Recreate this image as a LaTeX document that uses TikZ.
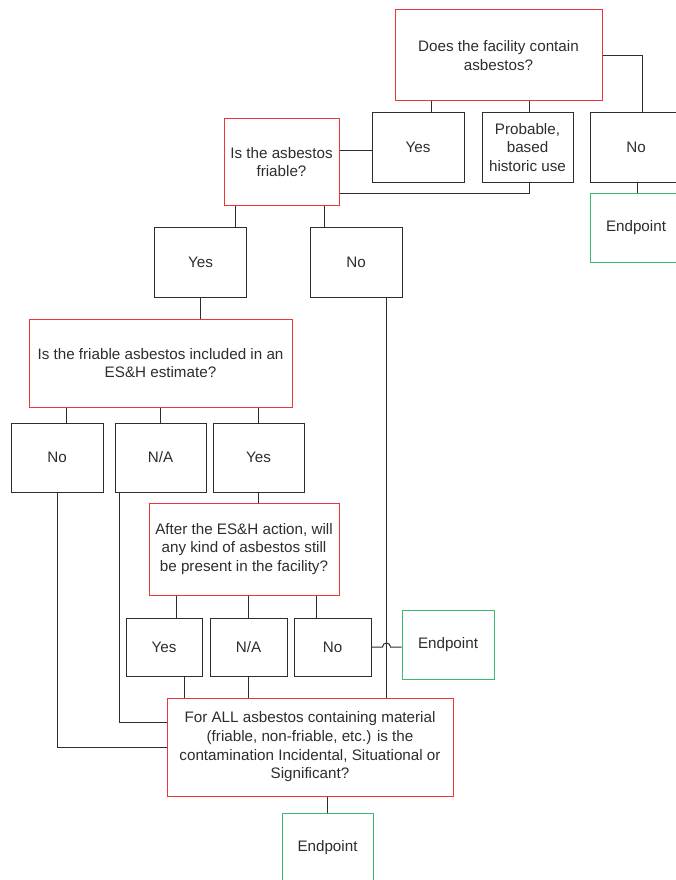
\documentclass[tikz,border=0pt]{standalone}
\usepackage{fontspec}
\setmainfont{Liberation Sans}
\definecolor{qred}{RGB}{238,52,52}
\definecolor{endgreen}{RGB}{60,185,110}
\definecolor{boxgray}{RGB}{45,45,45}

\begin{document}
\begin{tikzpicture}[x = 1pt, y = -1pt, line width = 1pt,
    every node/.style = {shape = rectangle, draw = boxgray, inner sep = 2pt, align = center,
        text = boxgray, font = \fontsize{15.2}{18.7}\selectfont},
    question/.style = {draw = qred},
    answer/.style = {minimum width = 92pt, minimum height = 69pt},
    endpoint/.style = {draw = endgreen, minimum width = 92pt, minimum height = 69pt},
    link/.style = {draw = boxgray}]
        \useasboundingbox (0, 0) rectangle (676, 880);
        \clip (0, 0) rectangle (676, 880);
        % first question
        \node[question, minimum width = 207pt, minimum height = 91pt] (facility) at (498.5, 55.5)
            {Does the facility contain\\asbestos?};
        \node[answer] (yesfac) at (418, 147.5) {Yes};
        \node[answer, minimum width = 91pt] (probable) at (527.5, 147.5) {Probable,\\based\\historic use};
        \node[answer] (nofac) at (636, 147.5) {No};
        \node[endpoint] (endfac) at (636, 227.5) {Endpoint};
        % friable
        \node[question, minimum width = 115pt, minimum height = 86pt] (friable) at (281.5, 162)
            {Is the asbestos\\friable?};
        \node[answer, minimum height = 70pt] (yesfri) at (200.5, 262) {Yes};
        \node[answer, minimum height = 70pt] (nofri) at (356, 262) {No};
        % estimate
        \node[question, minimum width = 263pt, minimum height = 88pt] (estimate) at (160.5, 363)
            {Is the friable asbestos included in an\\ES\&H estimate?};
        \node[answer] (noest) at (57, 457.5) {No};
        \node[answer, minimum width = 91pt] (naest) at (160.5, 457.5) {N/A};
        \node[answer, minimum width = 91pt] (yesest) at (258.5, 457.5) {Yes};
        % still present
        \node[question, minimum width = 190pt, minimum height = 92pt] (present) at (244, 549)
            {After the ES\&H action, will\\any kind of asbestos still\\be present in the facility?};
        \node[answer, minimum width = 76pt, minimum height = 58pt] (yespre) at (164, 647) {Yes};
        \node[answer, minimum width = 77pt, minimum height = 58pt] (napre) at (248.5, 647) {N/A};
        \node[answer, minimum width = 77pt, minimum height = 58pt] (nopre) at (332.5, 647) {No};
        \node[endpoint] (endpre) at (448, 644.5) {Endpoint};
        % contamination
        \node[question, minimum width = 286pt, minimum height = 98pt] (contam) at (310, 747)
            {For ALL asbestos containing material\\(friable, non-friable, etc.) is the\\contamination Incidental, Situational or\\Significant?};
        \node[endpoint, minimum width = 91pt] (endcon) at (327.5, 847.5) {Endpoint};

        \draw[link] (facility.east) -| ([xshift = 6pt]nofac.north);
        \draw[link] ([xshift = 13pt]yesfac.north) -- ([xshift = 13pt]yesfac.north |- facility.south);
        \draw[link] ([xshift = 1.5pt]probable.north) -- ([xshift = 1.5pt]probable.north |- facility.south);
        \draw[link] ([xshift = 1pt]nofac.south) -- ([xshift = 1pt]endfac.north);
        \draw[link] ([yshift = -2.5pt]yesfac.west) -- ([yshift = -2.5pt]yesfac.west -| friable.east);
        \draw[link] ([xshift = 1.5pt]probable.south) |- ([yshift = -31pt]friable.east);
        \draw[link] ([xshift = -46.5pt]friable.south) -- ([xshift = -46.5pt]friable.south |- yesfri.north);
        \draw[link] ([xshift = 42.5pt]friable.south) -- ([xshift = 42.5pt]friable.south |- nofri.north);
        \draw[link] (yesfri.south) -- (yesfri.south |- estimate.north);
        \draw[link] ([xshift = 9pt]noest.north) -- ([xshift = 9pt]noest.north |- estimate.south);
        \draw[link] (naest.north) -- (naest.north |- estimate.south);
        \draw[link] (yesest.north) -- (yesest.north |- estimate.south);
        \draw[link] (noest.south) |- (contam.west);
        \draw[link] ([xshift = -41.5pt]naest.south) |- ([yshift = 25pt]contam.west);
        \draw[link] (yesest.south) -- (yesest.south |- present.north);
        \draw[link] ([xshift = 12pt]yespre.north) -- ([xshift = 12pt]yespre.north |- present.south);
        \draw[link] (napre.north) -- (napre.north |- present.south);
        \draw[link] ([xshift = -16.5pt]nopre.north) -- ([xshift = -16.5pt]nopre.north |- present.south);
        \draw[link] ([xshift = 20pt]yespre.south) -- ([xshift = 20pt]yespre.south |- contam.north);
        \draw[link] (napre.south) -- (napre.south |- contam.north);
        \draw[link] ([xshift = 30pt]nofri.south) -- ([xshift = 30pt]nofri.south |- contam.north);
        \draw[link] (nopre.east) -- ([xshift = 11pt]nopre.east) arc (180:0:4pt) -- (nopre.east -| endpre.west);
        \draw[link] (endcon.north |- contam.south) -- (endcon.north);
\end{tikzpicture}
\end{document}
